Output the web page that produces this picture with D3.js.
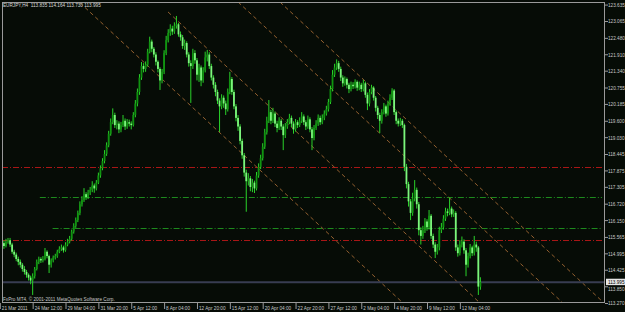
<!DOCTYPE html>
<html>
<head>
<meta charset="utf-8">
<script src="https://cdn.jsdelivr.net/npm/d3@7"></script>
<style>
  html, body { margin: 0; padding: 0; background: #060c06; }
  svg { display: block; }
</style>
</head>
<body>
<div id="chart"></div>
<script>
// EURJPY H4 bars, 21 Mar 2011 20:00 -> 13 May 2011 20:00 (weekends skipped)
var opens = [
  115.20,115.30,115.35,115.25,115.40,115.45,115.30,115.05,114.95,114.80,
  114.70,114.60,114.45,114.35,114.25,114.15,114.05,114.20,114.45,114.70,
  114.80,114.75,114.80,115.05,114.90,114.60,114.75,114.85,114.90,115.05,
  115.15,115.20,115.10,115.30,115.40,115.50,115.75,115.95,116.15,116.40,
  116.70,116.85,117.05,116.95,117.10,117.20,117.35,117.25,117.45,117.70,
  117.95,118.20,118.45,118.75,119.15,119.55,119.80,119.45,119.50,119.30,
  119.45,119.60,119.40,119.55,119.50,119.45,119.80,120.20,120.60,121.10,
  121.50,121.40,121.55,122.00,122.35,122.10,121.90,121.65,121.40,121.00,
  121.30,121.95,122.40,122.65,122.80,122.70,122.90,122.95,122.60,122.50,
  122.20,122.30,121.90,121.60,121.50,121.95,121.70,121.20,121.45,121.00,
  121.35,121.80,121.90,121.50,121.10,120.85,120.60,120.30,120.10,120.40,
  120.20,120.00,120.60,121.05,120.60,120.10,119.70,119.40,118.90,118.40,
  117.80,117.50,117.60,117.30,117.45,117.25,117.70,118.00,118.30,118.70,
  119.20,119.60,119.90,119.60,119.85,119.50,119.35,119.60,119.40,119.10,
  119.40,119.55,119.70,119.50,119.30,119.55,119.45,119.60,119.75,119.55,
  119.40,119.65,119.30,119.00,119.35,119.50,119.70,119.55,119.70,119.85,
  120.00,120.25,120.70,121.20,121.45,121.60,121.40,121.10,120.90,121.05,
  120.85,120.70,120.85,120.80,120.95,120.75,120.85,120.70,120.90,120.50,
  120.20,120.60,120.75,120.40,120.05,119.80,119.60,119.90,120.10,119.85,
  120.20,120.40,120.65,119.90,119.60,119.50,119.60,119.45,118.00,117.40,
  116.80,116.40,116.90,117.20,116.70,115.80,115.60,115.80,116.10,115.90,
  116.30,115.60,115.30,115.05,115.20,115.80,115.90,116.20,116.45,116.40,
  116.55,116.35,116.40,115.20,115.00,115.30,115.40,115.10,114.60,114.90,
  115.20,115.00,115.30,115.20,113.835
];
var highs = [
  115.42,115.45,115.44,115.50,115.53,115.53,115.36,115.12,115.02,114.88,
  114.78,114.66,114.55,114.42,114.30,114.22,114.30,114.52,114.78,114.88,
  114.86,114.90,115.18,115.10,114.95,114.82,114.92,114.98,115.12,115.24,
  115.30,115.26,115.38,115.50,115.60,115.82,116.04,116.24,116.48,116.80,
  116.98,117.26,117.12,117.20,117.30,117.50,117.42,117.54,117.80,118.05,
  118.30,118.58,118.85,119.25,119.68,120.03,119.88,119.62,119.58,119.56,
  119.80,119.68,119.66,119.64,119.58,119.90,120.32,120.72,121.22,121.64,
  121.60,121.66,122.10,122.52,122.42,122.16,121.98,121.70,121.46,121.40,
  122.05,122.55,122.78,122.95,122.90,123.02,123.24,123.00,122.70,122.58,
  122.42,122.36,121.98,121.70,122.10,122.05,121.78,121.58,121.52,121.46,
  122.00,122.06,121.98,121.58,121.18,120.94,120.68,120.38,120.52,120.48,
  120.30,120.72,121.30,121.12,120.68,120.18,119.80,119.48,118.98,118.48,
  117.90,117.78,117.68,117.58,117.52,117.82,118.12,118.42,118.82,119.32,
  119.74,120.32,119.98,120.05,119.92,119.60,119.72,119.66,119.48,119.52,
  119.66,119.84,119.78,119.58,119.66,119.62,119.72,119.90,119.82,119.62,
  119.78,119.72,119.38,119.45,119.62,119.82,119.78,119.82,119.96,120.12,
  120.36,120.82,121.36,121.58,121.73,121.68,121.48,121.18,121.14,121.10,
  120.92,120.96,120.94,121.04,121.00,120.96,120.92,121.02,120.96,120.58,
  120.70,120.85,120.80,120.46,120.12,119.88,120.00,120.22,120.16,120.30,
  120.52,120.73,120.70,119.96,119.68,119.70,119.66,119.50,118.10,117.48,
  116.88,117.10,117.54,117.28,116.78,115.90,115.95,116.22,116.18,116.50,
  116.36,115.68,115.38,115.32,115.92,116.05,116.32,116.58,116.55,116.92,
  116.62,116.52,116.46,115.30,115.45,115.58,115.48,115.18,115.02,115.32,
  115.26,115.60,115.40,115.25,114.164
];
var lows = [
  115.12,115.22,115.15,115.20,115.33,115.22,114.98,114.86,114.72,114.58,
  114.50,114.36,114.26,114.15,114.05,113.92,113.55,114.12,114.40,114.62,
  114.66,114.68,114.75,114.82,114.31,114.50,114.68,114.78,114.84,115.00,
  115.08,115.02,115.05,115.24,115.34,115.44,115.68,115.88,116.08,116.32,
  116.62,116.78,116.85,116.88,117.02,117.12,117.10,117.18,117.40,117.62,
  117.88,118.12,118.38,118.68,119.08,119.48,119.35,119.30,119.17,119.20,
  119.38,119.28,119.32,119.40,119.30,119.40,119.72,120.10,120.50,121.02,
  121.28,121.30,121.48,121.94,121.98,121.80,121.52,121.28,120.67,120.90,
  121.22,121.88,122.32,122.55,122.58,122.62,122.80,122.52,122.38,122.10,
  122.06,121.80,121.48,120.22,121.40,121.58,121.00,120.95,120.80,120.92,
  121.28,121.66,121.40,121.00,120.72,120.45,120.18,119.21,120.00,120.05,
  119.80,119.92,120.52,120.50,120.00,119.58,119.25,118.78,118.28,117.66,
  116.44,117.35,117.15,117.12,117.09,117.18,117.62,117.92,118.22,118.62,
  119.12,119.52,119.48,119.52,119.38,119.20,119.28,119.28,118.58,119.00,
  119.32,119.48,119.38,119.15,119.22,119.35,119.38,119.52,119.45,119.28,
  119.32,119.20,118.58,118.92,119.28,119.42,119.45,119.48,119.62,119.78,
  119.92,120.18,120.62,121.12,121.36,121.30,120.98,120.78,120.82,120.72,
  120.56,120.62,120.70,120.72,120.64,120.66,120.60,120.62,120.40,119.97,
  120.10,120.52,120.30,119.92,119.66,119.17,119.50,119.82,119.74,119.78,
  120.12,120.32,119.80,119.48,119.40,119.42,119.35,117.85,117.25,116.62,
  116.15,116.30,116.80,116.55,115.62,115.30,115.50,115.70,115.78,115.82,
  115.50,115.18,114.83,114.95,115.10,115.70,115.82,116.12,116.28,116.32,
  116.25,116.26,115.08,114.88,114.92,115.20,114.98,114.20,114.50,114.82,
  114.90,114.92,115.05,113.55,113.730
];
var closes = [
  115.30,115.35,115.25,115.40,115.45,115.30,115.05,114.95,114.80,114.70,
  114.60,114.45,114.35,114.25,114.15,114.05,114.20,114.45,114.70,114.80,
  114.75,114.80,115.05,114.90,114.60,114.75,114.85,114.90,115.05,115.15,
  115.20,115.10,115.30,115.40,115.50,115.75,115.95,116.15,116.40,116.70,
  116.85,117.05,116.95,117.10,117.20,117.35,117.25,117.45,117.70,117.95,
  118.20,118.45,118.75,119.15,119.55,119.80,119.45,119.50,119.30,119.45,
  119.60,119.40,119.55,119.50,119.45,119.80,120.20,120.60,121.10,121.50,
  121.40,121.55,122.00,122.35,122.10,121.90,121.65,121.40,121.00,121.30,
  121.95,122.40,122.65,122.80,122.70,122.90,122.95,122.60,122.50,122.20,
  122.30,121.90,121.60,121.50,121.95,121.70,121.20,121.45,121.00,121.35,
  121.80,121.90,121.50,121.10,120.85,120.60,120.30,120.10,120.40,120.20,
  120.00,120.60,121.05,120.60,120.10,119.70,119.40,118.90,118.40,117.80,
  117.50,117.60,117.30,117.45,117.25,117.70,118.00,118.30,118.70,119.20,
  119.60,119.90,119.60,119.85,119.50,119.35,119.60,119.40,119.10,119.40,
  119.55,119.70,119.50,119.30,119.55,119.45,119.60,119.75,119.55,119.40,
  119.65,119.30,119.00,119.35,119.50,119.70,119.55,119.70,119.85,120.00,
  120.25,120.70,121.20,121.45,121.60,121.40,121.10,120.90,121.05,120.85,
  120.70,120.85,120.80,120.95,120.75,120.85,120.70,120.90,120.50,120.20,
  120.60,120.75,120.40,120.05,119.80,119.60,119.90,120.10,119.85,120.20,
  120.40,120.65,119.90,119.60,119.50,119.60,119.45,118.00,117.40,116.80,
  116.40,116.90,117.20,116.70,115.80,115.60,115.80,116.10,115.90,116.30,
  115.60,115.30,115.05,115.20,115.80,115.90,116.20,116.45,116.40,116.55,
  116.35,116.40,115.20,115.00,115.30,115.40,115.10,114.60,114.90,115.20,
  115.00,115.30,115.20,113.84,113.995
];

// time labels, one every 16 bars
var timeLabels = ["21 Mar 2011","24 Mar 12:00","29 Mar 04:00","31 Mar 20:00","5 Apr 12:00",
  "8 Apr 04:00","12 Apr 20:00","15 Apr 12:00","20 Apr 04:00","22 Apr 20:00",
  "27 Apr 12:00","2 May 04:00","4 May 20:00","9 May 12:00","12 May 04:00"];
var barsPerLabel = 16;

var priceTicks = [123.635,123.065,122.480,121.910,121.340,120.755,120.185,119.600,119.030,
  118.445,117.875,117.305,116.720,116.150,115.565,114.995,114.425,113.850,113.270];
var priceMin = 113.27, priceMax = 123.725;
var bidPrice = 113.995;

// horizontal levels (price, first bar)
var redLevels = [117.98, 115.458];
var redStartBars = [0, 0];
var greenLevels = [116.94, 115.865];
var greenStartBars = [19.5, 25.7];

// channel lines: [bar, price] start and second anchor
var channelStarts = [[39.0, 123.70], [81.9, 123.38], [116.0, 123.725], [136.4, 123.725]];
var channelEnds   = [[196.3, 113.27], [233.8, 113.27], [274.2, 113.27], [294.2, 113.27]];

var headerText = "EURJPY,H4  113.835 114.164 113.730 113.995";
var footerText = "FxPro MT4, \u00a9 2001-2011 MetaQuotes Software Corp.";

var width = 625, height = 312;
var plot = {left: 2, top: 2, right: 605, bottom: 303};
var fontFamily = "'Liberation Sans', Arial, sans-serif";
var fontSize = 6, squeeze = 0.78;

var svg = d3.select("#chart").append("svg")
  .attr("width", width)
  .attr("height", height);

svg.append("rect")
  .attr("width", width).attr("height", height)
  .attr("fill", "#060c06");

var x = d3.scaleLinear().domain([0, closes.length - 1]).range([-0.2, 480.4]);
var y = d3.scaleLinear().domain([priceMin, priceMax]).range([plot.bottom, plot.top]);

svg.append("clipPath").attr("id", "plotclip")
  .append("rect")
  .attr("x", plot.left).attr("y", plot.top)
  .attr("width", plot.right - plot.left).attr("height", plot.bottom - plot.top);

var g = svg.append("g").attr("clip-path", "url(#plotclip)");

// narrow text like the MT4 screenshot
function condense(sel) {
  sel.each(function() {
    var t = d3.select(this);
    var tx = +t.attr("x") || 0, ty = +t.attr("y") || 0;
    t.attr("x", null).attr("y", null)
      .attr("transform", "translate(" + tx + "," + ty + ") scale(" + squeeze + ",1)");
  });
}

// horizontal dash-dot levels
function drawLevels(prices, starts, color) {
  g.selectAll(null).data(prices).enter().append("line")
    .attr("x1", function(d, i) { return Math.max(plot.left, x(starts[i])); })
    .attr("x2", plot.right - 3)
    .attr("y1", function(d) { return Math.round(y(d)) + 0.5; })
    .attr("y2", function(d) { return Math.round(y(d)) + 0.5; })
    .attr("stroke", color)
    .attr("stroke-width", 1)
    .attr("stroke-dasharray", "6,2,1,2");
}
drawLevels(redLevels, redStartBars, "#a81616");
drawLevels(greenLevels, greenStartBars, "#1d8a1d");

// parallel channel lines, extended to the right until they leave the plot
channelStarts.forEach(function(s, i) {
  var e = channelEnds[i];
  var slope = (e[1] - s[1]) / (e[0] - s[0]);
  var farBar = e[0] + 40;
  g.append("line")
    .attr("x1", x(s[0])).attr("y1", y(s[1]))
    .attr("x2", x(farBar)).attr("y2", y(s[1] + slope * (farBar - s[0])))
    .attr("stroke", "#93602f")
    .attr("stroke-width", 1)
    .attr("stroke-dasharray", "4,3");
});

// bid line
g.append("line")
  .attr("x1", plot.left).attr("x2", plot.right)
  .attr("y1", y(bidPrice)).attr("y2", y(bidPrice))
  .attr("stroke", "#383d52")
  .attr("stroke-width", 2);

// candles
var idx = d3.range(closes.length);
g.selectAll(".wick").data(idx).enter().append("line")
  .attr("class", "wick")
  .attr("x1", function(i) { return x(i); })
  .attr("x2", function(i) { return x(i); })
  .attr("y1", function(i) { return y(highs[i]); })
  .attr("y2", function(i) { return y(lows[i]); })
  .attr("stroke", "#2ad22a")
  .attr("stroke-width", 1);

g.selectAll(".body").data(idx).enter().append("rect")
  .attr("class", "body")
  .attr("x", function(i) { return x(i) - 0.9; })
  .attr("width", 1.8)
  .attr("y", function(i) { return y(Math.max(opens[i], closes[i])); })
  .attr("height", function(i) { return Math.max(1, Math.abs(y(opens[i]) - y(closes[i]))); })
  .attr("fill", function(i) { return closes[i] >= opens[i] ? "#109410" : "#7cf57c"; });

// frame
svg.append("rect")
  .attr("x", plot.left + 0.5).attr("y", plot.top + 0.5)
  .attr("width", plot.right - plot.left - 1).attr("height", plot.bottom - plot.top - 1)
  .attr("fill", "none")
  .attr("stroke", "#9a9a9a")
  .attr("stroke-width", 1);

// price axis; the tick just under the bid marker is nudged down so the two stay readable
var yAxis = svg.append("g")
  .attr("transform", "translate(" + plot.right + ",0)")
  .call(d3.axisRight(y).tickValues(priceTicks).tickFormat(d3.format(".3f")).tickSize(3).tickPadding(0));
yAxis.select(".domain").remove();
yAxis.selectAll("line").attr("stroke", "#9a9a9a");
yAxis.selectAll("text")
  .attr("fill", "#c8c8c8")
  .attr("font-family", fontFamily)
  .attr("font-size", fontSize)
  .attr("y", function(d) { return Math.abs(y(d) - y(bidPrice)) < 6 ? 2.6 : 0; })
  .call(condense);

// time axis
var xAxis = svg.append("g")
  .attr("transform", "translate(0," + plot.bottom + ")")
  .call(d3.axisBottom(x)
    .tickValues(d3.range(0, closes.length, barsPerLabel))
    .tickFormat(function(d, i) { return timeLabels[i]; })
    .tickSize(6).tickPadding(0));
xAxis.select(".domain").remove();
xAxis.selectAll("line").attr("stroke", "#9a9a9a");
xAxis.selectAll("text")
  .attr("fill", "#c8c8c8")
  .attr("font-family", fontFamily)
  .attr("font-size", fontSize)
  .attr("text-anchor", "start")
  .attr("dy", null)
  .attr("x", function(d) { return Math.max(1, x(d) + 1.5) - x(d); })
  .attr("y", 6.6)
  .call(condense);

// current price marker
var bidY = y(bidPrice);
svg.append("rect")
  .attr("x", plot.right + 1).attr("y", bidY - 3.4)
  .attr("width", width - plot.right - 1).attr("height", 6.4)
  .attr("fill", "#e6e6e6");
svg.append("text")
  .attr("x", plot.right + 3).attr("y", bidY + 1.6)
  .attr("fill", "#000")
  .attr("font-family", fontFamily)
  .attr("font-size", fontSize)
  .text(d3.format(".3f")(bidPrice))
  .call(condense);

// header and footer
svg.append("text")
  .attr("x", 3).attr("y", 7.4)
  .attr("fill", "#d8d8d8")
  .attr("font-family", fontFamily)
  .attr("font-size", fontSize)
  .attr("xml:space", "preserve")
  .style("white-space", "pre")
  .text(headerText)
  .call(condense);

svg.append("text")
  .attr("x", 3).attr("y", 301.2)
  .attr("fill", "#c8c8c8")
  .attr("font-family", fontFamily)
  .attr("font-size", fontSize)
  .text(footerText)
  .call(condense);
</script>
</body>
</html>
